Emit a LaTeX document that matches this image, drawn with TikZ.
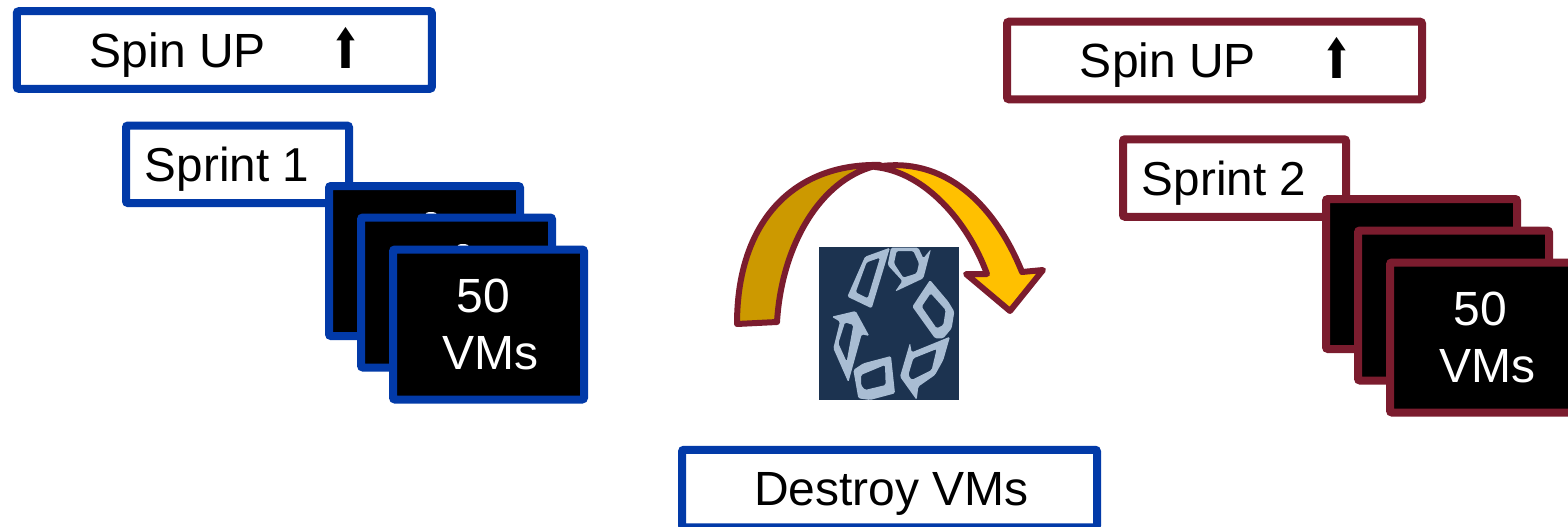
\documentclass[tikz,border=0pt]{standalone}
\usepackage{fontspec}
\setmainfont{Liberation Sans}
\newfontfamily\symfont{DejaVu Sans}
\definecolor{bluel}{HTML}{023AA8}
\definecolor{maroonl}{HTML}{7B1C2E}
\definecolor{golddark}{HTML}{CC9900}
\definecolor{goldlight}{HTML}{FFC000}
\definecolor{iconbg}{HTML}{1C3350}
\definecolor{iconfg}{HTML}{A9BDD3}
\tikzset{
  basebox/.style={draw=#1,line width=8pt,rounded corners=2pt,fill=white,inner sep=0pt,outer sep=0pt,font=\fontsize{48}{48}\selectfont,text=black,text height=34pt,text depth=0pt},
  widebox/.style={basebox=#1,minimum width=415pt,minimum height=77.5pt},
  sprintbox/.style={basebox=#1,minimum width=223pt,minimum height=77.5pt},
  vmbox/.style={draw=#1,line width=8pt,rounded corners=2pt,fill=black,text=white,inner sep=0pt,outer sep=0pt,minimum width=191pt,minimum height=150pt,align=center,font=\fontsize{48}{57}\selectfont},
  bandoutline/.style={draw=maroonl,line width=6pt,line join=round},
  glyph/.style={fill=iconfg,even odd rule,rounded corners=1.5pt},
  peek/.style={fill=white},
}
\newcommand{\spinlabel}{Spin UP\hspace{65pt}\raisebox{-1pt}{\scalebox{0.84}[1.24]{\symfont\fontsize{44}{44}\selectfont ⬆}}\hspace*{-3pt}}
\newcommand{\sprintlabel}[1]{\fontsize{47.6}{48}\selectfont Sprint #1\hspace*{21pt}}
\newcommand{\vmlabel}{\hspace*{3pt}50\hspace*{13pt}\\\hspace*{3pt}VMs}
\begin{document}
\begin{tikzpicture}[x=1pt,y=-1pt]
\clip (0,0) rectangle (1568,527);
% left group
\node[widebox=bluel] (spinA) at (224.3,50) {\spinlabel};
\node[sprintbox=bluel] (sprintA) at (237.5,164.3) {\sprintlabel{1}};
\node[vmbox=bluel] (vmA1) at (424.5,261) {};
\fill[peek] (431,214.5) ellipse (6pt and 2.5pt);
\node[vmbox=bluel] (vmA2) at (456.5,292.5) {};
\fill[peek] (463,246.5) ellipse (6pt and 2.5pt);
\node[vmbox=bluel] (vmA3) at (488.5,324.5) {\vmlabel};
% right group
\node[widebox=maroonl] (spinB) at (1214.5,60.5) {\spinlabel};
\node[sprintbox=maroonl] (sprintB) at (1234.5,178) {\sprintlabel{2}};
\node[vmbox=maroonl] (vmB1) at (1421.5,274) {};
\node[vmbox=maroonl] (vmB2) at (1453.5,305.5) {};
\node[vmbox=maroonl] (vmB3) at (1485.5,337.5) {\vmlabel};
% destroy
\node[widebox=bluel] (destroy) at (889.5,488.5) {\hspace*{4pt}Destroy VMs};
% recycle image
\fill[iconbg] (819,247) rectangle (959,400);
\begin{scope}
\clip (819,247) rectangle (959,400);
\begin{scope}[shift={(815,245)},x=0.3333pt,y=-0.3333pt]
\fill[glyph] (150,35)--(225,8)--(170,190)--(97,155)--cycle (155,52)--(195,38)--(158,160)--(122,142)--cycle;
\fill[glyph] (228,8)--(310,8)--(325,40)--(348,12)--(325,100)--(240,140)--(262,108)--(218,60)--cycle (245,18)--(295,18)--(312,55)--(305,85)--(265,98)--(237,55)--cycle;
\fill[glyph] (345,105)--(400,170)--(418,200)--(410,250)--(385,280)--(360,280)--(292,185)--cycle (347,145)--(392,195)--(385,240)--(365,250)--(320,185)--cycle;
\fill[glyph] (405,275)--(385,345)--(360,390)--(310,425)--(305,465)--(255,395)--(285,293)--(290,322)--cycle (295,340)--(365,312)--(350,375)--(290,405)--(280,390)--cycle;
\fill[glyph] (115,375)--(145,355)--(228,333)--(240,445)--(165,465)--(130,460)--cycle (138,390)--(210,360)--(212,420)--(150,435)--(138,420)--cycle;
\fill[glyph] (50,215)--(122,198)--(163,273)--(140,268)--(100,412)--(55,310)--(75,230)--cycle (90,232)--(115,240)--(95,350)--(70,295)--cycle;
\end{scope}
\end{scope}
% curved arrow
\filldraw[bandoutline,fill=golddark] (737,324) .. controls (737,220) and (795,163) .. (880,165) .. controls (825,175) and (782,240) .. (777,322) -- cycle;
\filldraw[bandoutline,fill=goldlight] (875,167) .. controls (945,155) and (995,205) .. (1022,272) -- (1043,270) -- (1010,311) -- (966,274) -- (987,274) .. controls (968,222) and (925,172) .. (875,167) -- cycle;
\end{tikzpicture}
\end{document}
